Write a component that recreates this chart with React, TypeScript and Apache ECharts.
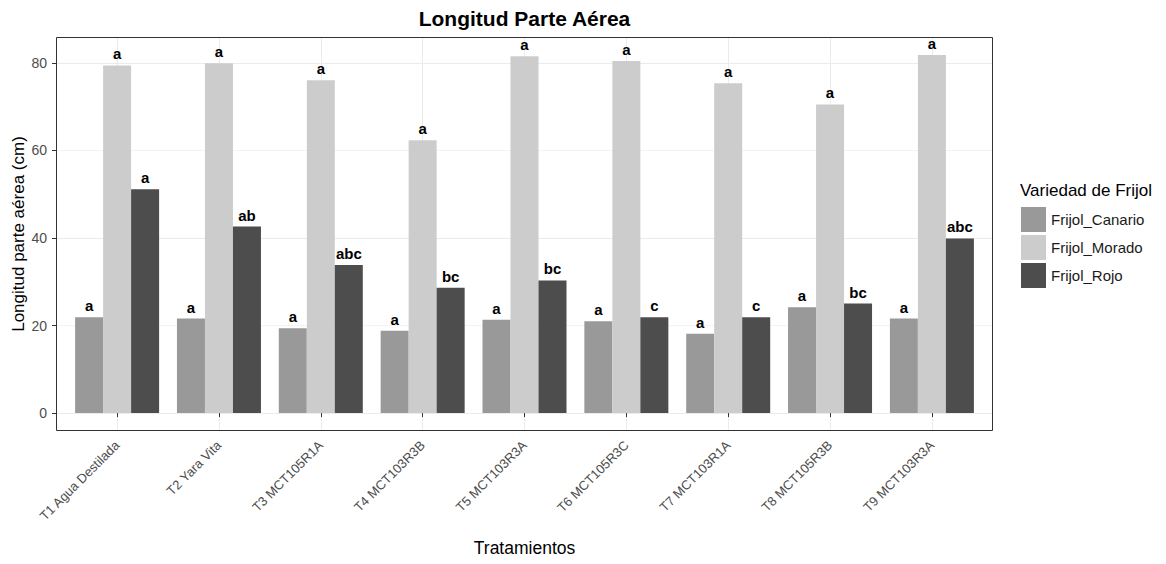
import React, { useEffect, useRef } from 'react';
import * as echarts from 'echarts';

// Treatments on the x axis
const treatments = [
  'T1 Agua Destilada',
  'T2 Yara Vita',
  'T3 MCT105R1A',
  'T4 MCT103R3B',
  'T5 MCT103R3A',
  'T6 MCT105R3C',
  'T7 MCT103R1A',
  'T8 MCT105R3B',
  'T9 MCT103R3A',
];

// Bean varieties (legend)
const varieties = ['Frijol_Canario', 'Frijol_Morado', 'Frijol_Rojo'];

// Mean shoot length (cm) per treatment
const canario = [21.9, 21.6, 19.4, 18.8, 21.3, 21.0, 18.1, 24.2, 21.6];
const morado = [79.4, 79.9, 76.0, 62.3, 81.5, 80.4, 75.3, 70.5, 81.8];
const rojo = [51.1, 42.6, 33.8, 28.6, 30.3, 21.9, 21.9, 25.0, 39.9];

// Significance groups (Tukey letters)
const canarioLetters = ['a', 'a', 'a', 'a', 'a', 'a', 'a', 'a', 'a'];
const moradoLetters = ['a', 'a', 'a', 'a', 'a', 'a', 'a', 'a', 'a'];
const rojoLetters = ['a', 'ab', 'abc', 'bc', 'bc', 'c', 'c', 'bc', 'abc'];

// Y axis labelled ticks
const yTicks = [0, 20, 40, 60, 80];

const FONT = "'Liberation Sans', Arial, Helvetica, sans-serif";
const W = 1166;
const H = 564;

// Panel box (pixels)
const PANEL_L = 56;
const PANEL_R = 993;
const PANEL_T = 37;
const PANEL_B = 431;

export default function App() {
  const ref = useRef<HTMLDivElement>(null);

  useEffect(() => {
    if (!ref.current) return;
    const chart = echarts.init(ref.current, null, { renderer: 'svg' });

    const allValues = [...canario, ...morado, ...rojo];
    const dataMax = Math.max(...allValues);
    // ggplot-style 5% expansion of the [0, max] range
    const pad = dataMax * 0.05;
    const yMin = -pad;
    const yMax = dataMax + pad;
    const pxPerUnit = (PANEL_B - PANEL_T) / (yMax - yMin);
    const zeroY = PANEL_B + yMin * pxPerUnit;

    // discrete axis expansion: 0.6 category units each side
    const unit = (PANEL_R - PANEL_L) / (treatments.length - 1 + 1.2);
    const inset = unit * 0.1;

    const sets = [
      { name: varieties[0], values: canario, letters: canarioLetters, color: '#999999' },
      { name: varieties[1], values: morado, letters: moradoLetters, color: '#cccccc' },
      { name: varieties[2], values: rojo, letters: rojoLetters, color: '#4d4d4d' },
    ];

    const series = sets.map((s) => ({
      name: s.name,
      type: 'bar',
      xAxisIndex: 0,
      yAxisIndex: 0,
      barWidth: 28,
      barGap: '0%',
      itemStyle: { color: s.color },
      data: s.values,
      z: 3,
      label: {
        show: true,
        position: 'top',
        distance: 4,
        formatter: (p: any) => s.letters[p.dataIndex],
        fontFamily: FONT,
        fontWeight: 'bold',
        fontSize: 15,
        color: '#000000',
      },
    }));

    const option: any = {
      animation: false,
      backgroundColor: '#ffffff',
      grid: [
        {
          left: PANEL_L + inset,
          right: W - (PANEL_R - inset),
          top: PANEL_T,
          bottom: H - PANEL_B,
        },
        {
          left: PANEL_L,
          right: W - PANEL_R,
          top: PANEL_T,
          bottom: H - zeroY,
        },
      ],
      xAxis: [
        {
          type: 'category',
          gridIndex: 0,
          data: treatments,
          axisLine: { show: false },
          axisTick: {
            show: true,
            alignWithLabel: true,
            length: 4,
            lineStyle: { color: '#333333' },
          },
          splitLine: {
            show: true,
            alignWithLabel: true,
            lineStyle: { color: '#ebebeb', width: 1 },
          },
          axisLabel: {
            rotate: 45,
            margin: 12,
            interval: 0,
            fontFamily: FONT,
            fontSize: 13,
            color: '#4d4d4d',
          },
        },
        {
          type: 'value',
          gridIndex: 1,
          min: 0,
          max: 1,
          show: false,
        },
      ],
      yAxis: [
        {
          type: 'value',
          gridIndex: 0,
          min: yMin,
          max: yMax,
          show: false,
        },
        {
          type: 'value',
          gridIndex: 1,
          min: 0,
          max: yMax,
          interval: 10,
          axisLine: { show: false },
          axisTick: {
            show: true,
            length: 4,
            customValues: yTicks,
            lineStyle: { color: '#333333' },
          },
          axisLabel: {
            customValues: yTicks,
            margin: 9,
            fontFamily: FONT,
            fontSize: 14,
            color: '#4d4d4d',
          },
          splitLine: {
            show: true,
            lineStyle: { color: ['#ebebeb', '#f3f3f3'], width: 1 },
          },
        },
      ],
      legend: {
        orient: 'vertical',
        left: 1021,
        top: 207,
        padding: 0,
        itemWidth: 25,
        itemHeight: 25,
        itemGap: 3,
        icon: 'rect',
        data: varieties,
        textStyle: { fontFamily: FONT, fontSize: 15, color: '#1a1a1a' },
      },
      graphic: [
        {
          type: 'rect',
          z: 100,
          silent: true,
          shape: {
            x: PANEL_L + 0.5,
            y: PANEL_T + 0.5,
            width: PANEL_R - PANEL_L - 1,
            height: PANEL_B - PANEL_T - 1,
          },
          style: { fill: 'none', stroke: '#333333', lineWidth: 1 },
        },
        {
          type: 'text',
          x: (PANEL_L + PANEL_R) / 2,
          y: 18,
          style: {
            text: 'Longitud Parte Aérea',
            fontFamily: FONT,
            fontSize: 21,
            fontWeight: 'bold',
            fill: '#000000',
            textAlign: 'center',
            textVerticalAlign: 'middle',
          },
        },
        {
          type: 'text',
          x: (PANEL_L + PANEL_R) / 2,
          y: 548,
          style: {
            text: 'Tratamientos',
            fontFamily: FONT,
            fontSize: 17.5,
            fill: '#000000',
            textAlign: 'center',
            textVerticalAlign: 'middle',
          },
        },
        {
          type: 'text',
          x: 18,
          y: (PANEL_T + PANEL_B) / 2,
          rotation: Math.PI / 2,
          style: {
            text: 'Longitud parte aérea (cm)',
            fontFamily: FONT,
            fontSize: 17,
            fill: '#000000',
            textAlign: 'center',
            textVerticalAlign: 'middle',
          },
        },
        {
          type: 'text',
          x: 1020,
          y: 190,
          style: {
            text: 'Variedad de Frijol',
            fontFamily: FONT,
            fontSize: 17,
            fill: '#000000',
            textAlign: 'left',
            textVerticalAlign: 'middle',
          },
        },
      ],
      series,
    };

    chart.setOption(option);
    return () => chart.dispose();
  }, []);

  return (
    <div
      ref={ref}
      style={{ position: 'fixed', left: 0, top: 0, width: W, height: H }}
    />
  );
}
